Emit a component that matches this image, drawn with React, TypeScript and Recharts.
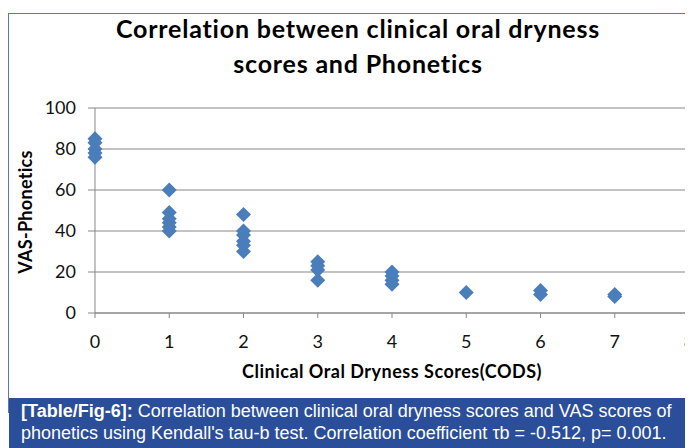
import React from 'react';
import {
  ScatterChart,
  Scatter,
  XAxis,
  YAxis,
  CartesianGrid,
} from 'recharts';

// Clinical Oral Dryness Score (CODS) of each patient
const codsScores = [
  0, 0, 0, 0, 0,
  1, 1, 1, 1, 1, 1,
  2, 2, 2, 2, 2, 2,
  3, 3, 3, 3,
  4, 4, 4, 4,
  5,
  6, 6,
  7, 7,
];

// matching VAS-Phonetics score
const vasPhonetics = [
  85, 83, 80, 78, 76,
  60, 49, 46, 44, 42, 40,
  48, 40, 38, 35, 33, 30,
  25, 23, 21, 16,
  20, 18, 16, 14,
  10,
  11, 9,
  9, 8,
];

const xTicks = [0, 1, 2, 3, 4, 5, 6, 7, 8];
const yTicks = [0, 20, 40, 60, 80, 100];

const points = codsScores.map((x, i) => ({ x, y: vasPhonetics[i] }));

const BLUE = '#4a7ebb';
const GRID = '#878787';
const LABEL_FONT = 'Lato, "Open Sans", sans-serif';

const Diamond = (props: any) => {
  const { cx, cy } = props;
  const r = 7.5;
  return (
    <polygon
      points={`${cx},${cy - r} ${cx + r},${cy} ${cx},${cy + r} ${cx - r},${cy}`}
      fill={BLUE}
    />
  );
};

// x tick label drawn at the position the axis gives
const XTick = (props: any) => {
  const { x, y, payload } = props;
  return (
    <text
      x={x}
      y={y}
      dy={13}
      textAnchor="middle"
      fill="#111"
      fontSize={18}
      fontFamily={LABEL_FONT}
    >
      {payload.value}
    </text>
  );
};

const App = () => {
  return (
    <div
      style={{
        position: 'relative',
        width: 693,
        height: 448,
        marginLeft: -8,
        marginTop: -8,
        overflow: 'hidden',
        background: '#fff',
      }}
    >
      <style>{'html, body { overflow: hidden; }'}</style>

      {/* chart frame */}
      <div
        style={{
          position: 'absolute',
          left: 8,
          top: 13,
          width: 720,
          height: 400,
          border: '1.5px solid #5b78b6',
          boxSizing: 'border-box',
        }}
      />

      <div style={{ position: 'absolute', left: 0, top: 0 }}>
        <ScatterChart
          width={693}
          height={448}
          margin={{ top: 108, right: 4, bottom: 105, left: 0 }}
        >
          <CartesianGrid horizontal vertical={false} stroke={GRID} strokeWidth={1} />
          <XAxis
            type="number"
            dataKey="x"
            domain={[0, 8]}
            ticks={xTicks}
            interval={0}
            height={30}
            tickSize={5}
            tickMargin={17}
            stroke={GRID}
            tick={<XTick />}
          />
          <YAxis
            type="number"
            dataKey="y"
            domain={[0, 100]}
            ticks={yTicks}
            interval={0}
            width={95}
            tickSize={7}
            tickMargin={12}
            stroke={GRID}
            tick={{ fill: '#111', fontSize: 18, fontFamily: LABEL_FONT }}
          />
          <Scatter
            data={points}
            fill={BLUE}
            shape={Diamond}
            isAnimationActive={false}
          />
        </ScatterChart>
      </div>

      {/* titles */}
      <svg
        width={693}
        height={448}
        style={{ position: 'absolute', left: 0, top: 0, pointerEvents: 'none' }}
      >
        <text
          x={358}
          y={38}
          textAnchor="middle"
          fontFamily={LABEL_FONT}
          fontWeight={700}
          fontSize={25}
          letterSpacing={0.8}
          fill="#000"
        >
          Correlation between clinical oral dryness
        </text>
        <text
          x={358}
          y={73}
          textAnchor="middle"
          fontFamily={LABEL_FONT}
          fontWeight={700}
          fontSize={25}
          letterSpacing={0.8}
          fill="#000"
        >
          scores and Phonetics
        </text>
        <text
          x={392}
          y={378}
          textAnchor="middle"
          fontFamily={LABEL_FONT}
          fontWeight={700}
          fontSize={18}
          letterSpacing={0.5}
          fill="#000"
        >
          Clinical Oral Dryness Scores(CODS)
        </text>
        <text
          transform="translate(32, 212) rotate(-90)"
          textAnchor="middle"
          fontFamily={LABEL_FONT}
          fontWeight={700}
          fontSize={18}
          letterSpacing={0.3}
          fill="#000"
        >
          VAS-Phonetics
        </text>
      </svg>

      {/* caption */}
      <div
        style={{
          position: 'absolute',
          left: 9,
          top: 398,
          width: 700,
          height: 50,
          background: '#2a4e9a',
          color: '#fff',
          fontFamily: '"Liberation Sans", Arial, sans-serif',
          fontSize: 18,
          lineHeight: '22px',
          padding: '2px 0 0 12px',
          boxSizing: 'border-box',
          whiteSpace: 'nowrap',
        }}
      >
        <div>
          <b>[Table/Fig-6]:</b> Correlation between clinical oral dryness scores and VAS scores of
        </div>
        <div>
          phonetics using Kendall's tau-b test. Correlation coefficient τb = -0.512, p= 0.001.
        </div>
      </div>
    </div>
  );
};

export default App;
